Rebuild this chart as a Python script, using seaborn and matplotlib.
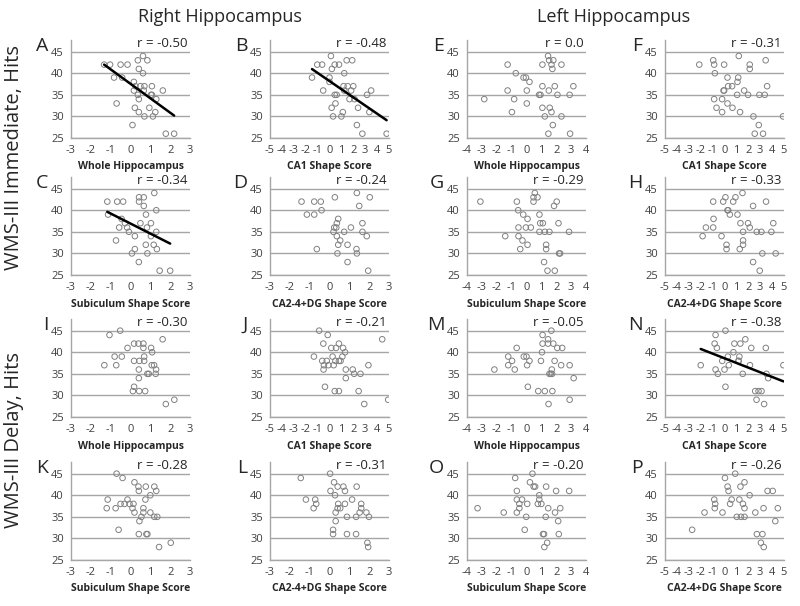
import matplotlib
matplotlib.use('Agg')
import matplotlib.pyplot as plt
import matplotlib.transforms as mtransforms
import seaborn as sns

# ---- data, one pair of lists per panel ----
a_x = [-1.33, -1.03, -0.5, -0.15, -0.83, -0.42, -0.7, 0.37, 0.63, 0.85, 0.42, 0.63, 0.17, 0.25, 0.5, 0.7, 1.08,
       0.17, 0.67, 1.63, 0.37, 1.03, 1.08, 0.42, 1.3, 0.22, 0.95, 0.42, 1.25, 0.7, 1.13, 0.1, 1.78, 2.2]
a_y = [42, 42, 42, 42, 39, 39, 33, 43, 44, 43, 41, 40, 38, 37, 37, 37, 37,
       36, 36, 36, 35, 35, 35, 34, 34, 32, 32, 31, 31, 30, 30, 28, 26, 26]

b_x = [-1.47, -1.03, -0.62, -0.53, 0.12, 0.44, 0.8, 0.2, 0, 0, 1.24, 1.44, 1.91, 1.18, 1.53, 2, 1.24,
       1.82, 0.44, 0.6, 1.68, 2.1, 3.15, 3.5, 0.5, 0.18, 2.4, 1.12, 3.35, 0.3, 1, 2.3, 2.76, 4.8]
b_y = [39, 42, 42, 36, 44, 42, 42, 41, 39, 38, 40, 43, 43, 37, 37, 37, 36,
       36, 35, 35, 34, 34, 35, 36, 33, 32, 32, 31, 31, 30, 30, 28, 26, 26]

e_x = [-2.84, -1.27, -1.27, -0.72, -0.83, -0.98, -0.2, -0.04, 0.2, 0.02, 0.02, 0.85, 0.94, 1.07, 1.07, 1.07, 1.23,
       1.45, 1.52, 1.8, 1.68, 1.74, 1.5, 1.9, 2.08, 1.56, 1.68, 1.77, 1.47, 2.35, 2.35, 2.9, 3.15, 2.93]
e_y = [34, 42, 36, 40, 34, 31, 39, 39, 38, 36, 33, 35, 35, 42, 37, 32, 30,
       44, 43, 43, 42, 41, 36, 37, 35, 32, 31, 28, 26, 42, 30, 35, 37, 26]

f_x = [-2.12, -0.95, -0.87, -0.81, -0.87, -0.67, -0.2, -0.2, -0.08, -0.03, -0.03, 0.25, 0.25, 0.31, 0.64, 0.67, 1.2,
       1.15, 1.09, 1.06, 1.31, 2.12, 2.12, 1.65, 1.98, 2.93, 3.38, 3.46, 3.58, 2.43, 2.88, 2.54, 3.24, 4.92]
f_y = [42, 43, 42, 40, 34, 32, 31, 34, 36, 36, 42, 33, 39, 37, 37, 32, 44,
       39, 38, 35, 31, 42, 41, 36, 35, 35, 35, 43, 37, 30, 28, 26, 26, 30]

c_x = [-1.17, -1.13, -0.67, -0.37, -0.73, -0.57, -0.45, -0.28, -0.17, -0.08, 0.22, 0.07, 0.22, 0.43, 0.43, 0.67,
       0.67, 0.5, 0.78, 0.83, 0.77, 0.85, 0.42, 1.03, 1.03, 1.2, 1.3, 1.3, 1.17, 1.33, 1.47, 2.0]
c_y = [42, 39, 42, 42, 33, 36, 38, 37, 36, 35, 34, 30, 31, 43, 42, 43,
       41, 37, 39, 36, 32, 30, 28, 37, 34, 44, 40, 35, 32, 31, 26, 26]

d_x = [-1.41, -0.77, -1.14, -0.77, -0.64, -0.44, -0.4, 0.27, 0.44, 0.37, 0.34, 0.24, 0.2, 0.37, 0.54,
       0.44, 0.4, 0.74, 1.08, 0.91, 0.91, 1.38, 1.5, 1.66, 1.66, 1.88, 2.03, 1.36, 1.38, 1.95]
d_y = [42, 42, 39, 39, 31, 42, 40, 43, 38, 37, 36, 36, 35, 34, 33,
       32, 30, 35, 36, 32, 28, 44, 41, 37, 35, 34, 43, 31, 30, 26]

g_x = [-3.1, -0.65, -0.56, -0.22, 0.07, -0.54, -0.04, 0.29, -1.43, -0.54, -0.27, 0.07, -0.42, 0.56, 0.47, 0.74, 0.47,
       0.87, 0.92, 1.1, 0.87, 1.23, 1.54, 1.32, 1.32, 1.18, 1.41, 1.9, 2.03, 1.85, 2.15, 2.19, 2.26, 2.86]
g_y = [42, 42, 40, 39, 38, 36, 36, 36, 34, 34, 33, 32, 31, 44, 43, 43, 42,
       39, 37, 37, 35, 35, 35, 32, 31, 28, 26, 26, 42, 41, 37, 30, 30, 35]

h_x = [-1.84, -1.56, -0.92, -0.95, -0.95, -0.11, 0.08, 0.25, 0.31, 0.45, -0.25, 0.17, 0.17, 0.73, 0.92, 1.09, 1.51,
       1.34, 1.56, 1.56, 1.56, 1.28, 2.4, 1.98, 2.12, 2.71, 3.1, 3.49, 3.94, 4.1, 3.18, 4.3, 2.4, 2.96]
h_y = [34, 36, 38, 36, 42, 42, 43, 40, 40, 39, 34, 32, 31, 42, 43, 39, 44,
       37, 35, 33, 32, 31, 41, 37, 36, 35, 35, 42, 35, 37, 30, 30, 28, 26]

i_x = [-1.06, -0.52, -0.15, -0.8, -0.44, -1.32, -0.72, 0.18, 0.4, 0.65, 0.65, 0.69, 0.18, 0.45, 0.69, 1.04,
       1.09, 1.07, 1.19, 1.29, 1.27, 0.85, 0.92, 0.42, 0.42, 0.18, 0.12, 0.44, 0.74, 1.62, 1.78, 2.21]
i_y = [44, 45, 41, 39, 39, 37, 37, 42, 42, 42, 41, 39, 38, 38, 38, 41,
       40, 37, 37, 36, 35, 35, 35, 36, 34, 32, 31, 31, 31, 43, 28, 29]

j_x = [-0.87, -1.31, -0.47, -0.52, -0.15, 0.15, 0.26, -0.61, -0.23, -0.09, -0.5, 0.35, 0.5, 0.79, 0.55, 1.14, 1.31,
       0.93, 1.08, 0.79, 1.37, 1.95, 2.07, 2.6, 1.37, 3.27, 4.43, -0.38, 0.44, 0.79, 2.45, 2.92, 4.93]
j_y = [45, 39, 37, 42, 44, 41, 39, 38, 38, 37, 36, 37, 38, 42, 41, 41, 40,
       38, 39, 38, 36, 36, 35, 35, 34, 37, 43, 32, 31, 31, 31, 28, 29]

m_x = [-2.16, -1.23, -1.23, -0.97, -0.79, -0.66, -0.18, 0, 0.04, 0.2, 0.09, 0.79, 1.23, 0.97, 1.04, 1.08, 1.08,
       1.67, 1.45, 1.45, 1.8, 2.07, 2.4, 1.89, 1.7, 1.54, 1.63, 1.72, 1.74, 1.48, 2.33, 2.9, 3.17, 2.9]
m_y = [36, 39, 37, 38, 36, 41, 39, 39, 37, 38, 32, 31, 31, 38, 40, 42, 44,
       45, 43, 42, 42, 41, 41, 38, 36, 35, 35, 35, 31, 28, 37, 37, 34, 29]

n_x = [-2, -0.75, -0.83, -0.64, 0.08, -0.75, -0.56, 0, 0.36, -0.19, 0.28, 0.75, 0.83, 1.33, 1.75, 1.19,
       1.25, 1.17, 1.53, 2.14, 2.25, 3.47, 0.08, 2.58, 2.86, 3.11, 2.69, 3.33, 3.53, 3.67, 4.95]
n_y = [37, 44, 42, 41, 45, 36, 35, 36, 37, 38, 39, 40, 42, 42, 43, 38,
       39, 38, 35, 37, 41, 41, 32, 31, 31, 31, 29, 28, 35, 34, 37]

k_x = [-0.7, -0.4, 0.2, 0.4, 0.42, 0.77, 1.2, 1.3, 1.0, 0.75, -1.15, -1.2, -0.75, -0.5, -0.3, -0.15, -0.05,
       0.15, 0.1, 0.2, 0.65, 0.65, 1.0, 0.55, 1.2, 1.35, 0.45, -0.6, 0.42, 0.8, 0.85, 1.44, 2.03]
k_y = [45, 44, 43, 42, 41, 42, 42, 41, 40, 39, 39, 37, 37, 38, 38, 39, 38,
       38, 37, 36, 37, 36, 36, 35, 35, 35, 34, 32, 31, 31, 31, 28, 29]

l_x = [-1.45, 0.03, -1.19, -0.72, -0.67, -0.8, 0.23, 0.41, 0.7, 0.78, 0.05, 0.28, 1.14, 0.44, 0.78, 0.41, 0.54,
       0.31, 0.31, 0.18, 0.18, 0.88, 1.34, 0.88, 1.34, 1.37, 1.6, 1.6, 1.52, 1.86, 1.99, 1.91, 1.95]
l_y = [44, 45, 39, 39, 38, 37, 43, 42, 42, 41, 41, 40, 39, 38, 38, 37, 37,
       36, 34, 32, 31, 31, 31, 35, 35, 42, 38, 37, 36, 36, 35, 29, 28]

o_x = [-3.29, -1.53, -0.76, -0.65, -0.65, -0.3, -0.48, -0.48, -0.65, 0.05, -0.02, -0.12, 0.23, 0.4, 0.48, 0.58, 0.86,
       0.86, 0.76, 1.0, 1.32, 1.46, 1.29, 1.11, 1.18, 1.99, 1.92, 2.27, 2.13, 2.17, 1.39, 2.87, 1.2]
o_y = [37, 36, 44, 41, 39, 39, 38, 37, 36, 38, 35, 32, 43, 45, 42, 42, 40,
       39, 38, 38, 42, 37, 35, 31, 31, 41, 36, 37, 34, 31, 29, 41, 28]

p_x = [-1.68, -2.72, -0.78, -0.86, -0.82, -0.17, 0.04, 0.26, 0.34, 0.47, 0.6, 0.9, 1.25, 1.55, 1.68, 1.34,
       1.68, 1.03, 1.38, 1.68, 2.11, 2.59, 3.28, 3.62, 4.05, 4.48, 4.27, 2.72, 3.19, 3.06, 3.3]
p_y = [36, 32, 38, 39, 37, 36, 44, 42, 41, 38, 39, 45, 39, 38, 37, 42,
       43, 35, 35, 35, 40, 36, 37, 41, 41, 37, 34, 31, 31, 29, 28]

# panel order: row by row, left to right
letters = ['A', 'B', 'E', 'F', 'C', 'D', 'G', 'H', 'I', 'J', 'M', 'N', 'K', 'L', 'O', 'P']
xs_all = [a_x, b_x, e_x, f_x, c_x, d_x, g_x, h_x, i_x, j_x, m_x, n_x, k_x, l_x, o_x, p_x]
ys_all = [a_y, b_y, e_y, f_y, c_y, d_y, g_y, h_y, i_y, j_y, m_y, n_y, k_y, l_y, o_y, p_y]
r_labels = ['r = -0.50', 'r = -0.48', 'r = 0.0', 'r = -0.31',
            'r = -0.34', 'r = -0.24', 'r = -0.29', 'r = -0.33',
            'r = -0.30', 'r = -0.21', 'r = -0.05', 'r = -0.38',
            'r = -0.28', 'r = -0.31', 'r = -0.20', 'r = -0.26']
x_labels = ['Whole Hippocampus', 'CA1 Shape Score', 'Whole Hippocampus', 'CA1 Shape Score',
            'Subiculum Shape Score', 'CA2-4+DG Shape Score', 'Subiculum Shape Score', 'CA2-4+DG Shape Score',
            'Whole Hippocampus', 'CA1 Shape Score', 'Whole Hippocampus', 'CA1 Shape Score',
            'Subiculum Shape Score', 'CA2-4+DG Shape Score', 'Subiculum Shape Score', 'CA2-4+DG Shape Score']
x_max = [3, 5, 4, 5, 3, 3, 4, 5, 3, 5, 4, 5, 3, 3, 4, 5]
has_fit = ['A', 'B', 'C', 'N']
y_ticks = [25, 30, 35, 40, 45]

sns.set_style('white')
plt.rcParams['font.family'] = ['Open Sans', 'DejaVu Sans']
plt.rcParams['axes.unicode_minus'] = False

axis_gray = '#a6a6a6'
point_gray = '#808080'
text_dark = '#404040'

W, H = 800, 606
fig = plt.figure(figsize=(W / 100, H / 100), dpi=100)

# panel grid in pixels
col_left = [71, 270, 467, 665]
row_top = [40, 177, 319, 462]
ax_w, ax_h = 119, 98

for k in range(16):
    row, col = divmod(k, 4)
    ax = fig.add_axes([col_left[col] / W, 1 - (row_top[row] + ax_h) / H, ax_w / W, ax_h / H])
    xs, ys = xs_all[k], ys_all[k]

    sns.scatterplot(x=xs, y=ys, ax=ax, s=16, facecolor='none', edgecolor=point_gray,
                    linewidth=0.7, zorder=3)
    if letters[k] in has_fit:
        sns.regplot(x=xs, y=ys, ax=ax, scatter=False, ci=None, color='black',
                    line_kws={'lw': 1.8, 'zorder': 4})

    xm = x_max[k]
    ax.set_xlim(-xm, xm)
    ax.set_ylim(25, 47.7)
    ax.set_xticks(range(-xm, xm + 1))
    ax.set_yticks(y_ticks)
    ax.yaxis.grid(True, color=axis_gray, lw=1.0)
    ax.set_axisbelow(True)
    for side in ['top', 'right']:
        ax.spines[side].set_visible(False)
    for side in ['left', 'bottom']:
        ax.spines[side].set_color(axis_gray)
        ax.spines[side].set_linewidth(1.0)
    ax.tick_params(axis='both', direction='out', length=3, width=0.8, color=axis_gray,
                   labelsize=8, labelcolor=text_dark, pad=2)
    ax.set_xlabel(x_labels[k], fontsize=7.5, fontweight='bold', labelpad=4)
    ax.set_ylabel('')

    blend = mtransforms.blended_transform_factory(ax.transAxes, ax.transData)
    ax.text(-0.19, 46.3, letters[k], transform=blend, fontsize=14, ha='right', va='center')
    ax.text(0.98, 45.3, r_labels[k], transform=blend, fontsize=9.5, ha='right', va='bottom')

fig.text(220 / W, 1 - 17 / H, 'Right Hippocampus', fontsize=13, ha='center', va='center')
fig.text(614 / W, 1 - 17 / H, 'Left Hippocampus', fontsize=13, ha='center', va='center')
fig.text(14 / W, 1 - 158 / H, 'WMS-III Immediate, Hits', fontsize=14.5, rotation=90, ha='center', va='center')
fig.text(14 / W, 1 - 440 / H, 'WMS-III Delay, Hits', fontsize=14.5, rotation=90, ha='center', va='center')

fig.savefig('out.png', dpi=100)
